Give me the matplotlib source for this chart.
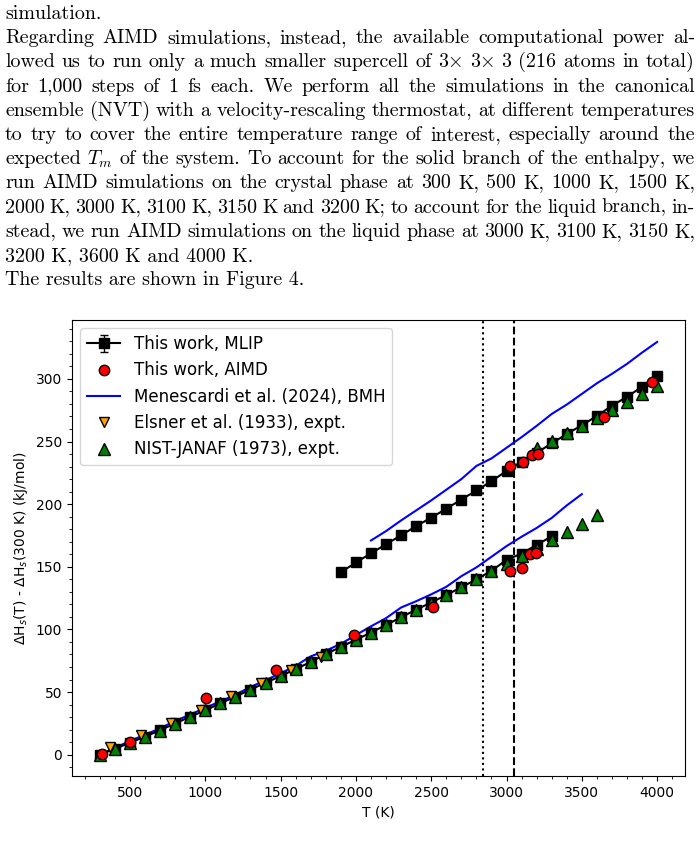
"""
Page excerpt with Figure 4: enthalpy difference vs temperature
(MLIP / AIMD / BMH / experimental data).
"""

import matplotlib
matplotlib.use("Agg")
import matplotlib.pyplot as plt
import numpy as np


# ── Data ─────────────────────────────────────────────────────────────

# MLIP, solid branch
T_MLIP_SOLID = np.arange(300, 3301, 100)
H_MLIP_SOLID = [0, 4.8, 9.5, 14.5, 19.5, 25.0, 30.3, 35.4, 41.0, 46.4,
                52.0, 57.4, 62.8, 68.4, 74.0, 80.4, 86.0, 91.8, 97.5, 103.6,
                109.7, 115.8, 121.5, 127.5, 133.6, 140.0, 146.8, 155.5, 160.6,
                167.5, 174.3]
# MLIP, liquid branch
T_MLIP_LIQUID = np.arange(1900, 4001, 100)
H_MLIP_LIQUID = [145.5, 153.5, 160.7, 168.0, 175.1, 182.5, 189.2, 196.3,
                 203.7, 210.9, 218.3, 226.5, 234.0, 241.0, 248.5, 256.0,
                 263.0, 270.4, 278.6, 285.7, 293.7, 302.1]
MLIP_ERR = 0.8

# AIMD
T_AIMD_SOLID = [314, 502, 1005, 1470, 1988, 2513, 3025, 3100, 3153, 3198]
H_AIMD_SOLID = [0.5, 10.3, 45.5, 67.5, 95.5, 118.2, 146.8, 149.0, 160.0, 161.0]
T_AIMD_LIQUID = [3020, 3109, 3168, 3211, 3645, 3964]
H_AIMD_LIQUID = [230.2, 234.0, 238.9, 240.2, 269.3, 297.6]

# Menescardi et al. (2024), BMH
T_BMH_SOLID = np.arange(300, 3501, 100)
H_BMH_SOLID = [0, 5.5, 11.0, 16.0, 21.0, 27.0, 32.0, 37.5, 42.5, 48.0,
               54.0, 59.5, 65.0, 71.0, 78.5, 83.0, 88.5, 95.5, 102.5, 109.0,
               117.5, 122.5, 128.0, 134.0, 142.5, 149.5, 158.0, 166.5, 174.0,
               181.0, 189.0, 199.0, 208.0]
T_BMH_LIQUID = np.arange(2100, 4001, 100)
H_BMH_LIQUID = [171.0, 178.5, 187.0, 195.0, 203.0, 211.5, 220.0, 230.5,
                236.5, 245.0, 253.5, 262.5, 272.0, 279.5, 288.0, 296.5,
                304.0, 312.0, 321.0, 329.5]

# Elsner et al. (1933)
T_ELSNER = [370, 570, 770, 970, 1170, 1370, 1570, 1770]
H_ELSNER = [5.8, 15.9, 25.6, 35.7, 46.8, 57.4, 68.0, 78.0]

# NIST-JANAF (1973)
T_NIST_SOLID = np.arange(300, 3601, 100)
H_NIST_SOLID = [0, 4.8, 9.6, 14.5, 19.3, 24.9, 30.3, 35.3, 40.9, 46.3,
                52.0, 57.4, 62.8, 68.4, 74.1, 80.4, 86.0, 91.8, 97.4, 103.7,
                109.8, 115.9, 121.4, 127.5, 133.6, 139.9, 146.8, 152.6, 158.3,
                164.5, 171.0, 177.8, 184.4, 191.0]
T_NIST_LIQUID = np.arange(3200, 4001, 100)
H_NIST_LIQUID = [245.2, 250.5, 256.6, 262.7, 268.5, 275.1, 281.2, 287.8, 294.4]

T_DOTTED = 2845
T_DASHED = 3052

# Paragraph text (justified lines are marked True)
PARAGRAPH = [
    ("simulation.", False),
    ("Regarding AIMD simulations, instead, the available computational power al-", True),
    (r"lowed us to run only a much smaller supercell of 3$\times$ 3$\times$ 3 (216 atoms in total)", True),
    ("for 1,000 steps of 1 fs each.  We perform all the simulations in the canonical", True),
    ("ensemble (NVT) with a velocity-rescaling thermostat, at different temperatures", True),
    ("to try to cover the entire temperature range of interest, especially around the", True),
    (r"expected $T_m$ of the system. To account for the solid branch of the enthalpy, we", True),
    ("run AIMD simulations on the crystal phase at 300 K, 500 K, 1000 K, 1500 K,", True),
    ("2000 K, 3000 K, 3100 K, 3150 K and 3200 K; to account for the liquid branch, in-", True),
    ("stead, we run AIMD simulations on the liquid phase at 3000 K, 3100 K, 3150 K,", True),
    ("3200 K, 3600 K and 4000 K.", False),
    ("The results are shown in Figure 4.", False),
]


# ── Figure ───────────────────────────────────────────────────────────

W, H = 700, 849
SERIF = ["cmr10", "DejaVu Serif"]
TEXT_SIZE = 14.4

fig = plt.figure(figsize=(W / 100, H / 100), dpi=100)
renderer = fig.canvas.get_renderer()


def text_width(s, size):
    t = fig.text(0, 0, s, fontsize=size, family=SERIF, math_fontfamily="cm")
    w = t.get_window_extent(renderer).width
    t.remove()
    return w


def draw_line(line, justify, y_px, x0=5, x1=695):
    kw = dict(fontsize=TEXT_SIZE, family=SERIF, math_fontfamily="cm",
              va="baseline", ha="left")
    if not justify:
        fig.text(x0 / W, 1 - y_px / H, line, **kw)
        return
    words = line.split()
    widths = [text_width(w, TEXT_SIZE) for w in words]
    space = (x1 - x0 - sum(widths)) / (len(words) - 1)
    x = x0
    for w, wd in zip(words, widths):
        fig.text(x / W, 1 - y_px / H, w, **kw)
        x += wd + space


for i, (line, justify) in enumerate(PARAGRAPH):
    draw_line(line, justify, 19 + i * 24.2)

# ── Plot ─────────────────────────────────────────────────────────────

ax = fig.add_axes([72 / W, 1 - 776 / H, (685 - 72) / W, (776 - 320) / H])

ax.plot(T_BMH_SOLID, H_BMH_SOLID, color="blue", lw=1.5, zorder=2)
bmh, = ax.plot(T_BMH_LIQUID, H_BMH_LIQUID, color="blue", lw=1.5, zorder=2)

mlip_kw = dict(fmt="-s", color="black", ms=7, lw=1.5, capsize=3,
               elinewidth=1, zorder=3)
mlip = ax.errorbar(T_MLIP_SOLID, H_MLIP_SOLID, yerr=MLIP_ERR, **mlip_kw)
ax.errorbar(T_MLIP_LIQUID, H_MLIP_LIQUID, yerr=MLIP_ERR, **mlip_kw)

elsner, = ax.plot(T_ELSNER, H_ELSNER, "v", color="orange", mec="black",
                  ms=6.5, ls="none", zorder=4)

nist_kw = dict(marker="^", color="green", mec="black", ms=8, ls="none",
               zorder=5)
nist, = ax.plot(T_NIST_SOLID, H_NIST_SOLID, **nist_kw)
ax.plot(T_NIST_LIQUID, H_NIST_LIQUID, **nist_kw)

aimd_kw = dict(marker="o", color="red", mec="black", ms=7.5, ls="none",
               zorder=6)
aimd, = ax.plot(T_AIMD_SOLID, H_AIMD_SOLID, **aimd_kw)
ax.plot(T_AIMD_LIQUID, H_AIMD_LIQUID, **aimd_kw)

ax.axvline(T_DOTTED, color="black", ls=":", lw=1.5, zorder=1)
ax.axvline(T_DASHED, color="black", ls="--", lw=1.5, zorder=1)

ax.set_xlim(115, 4185)
ax.set_ylim(-17, 347)
ax.set_xticks([500, 1000, 1500, 2000, 2500, 3000, 3500, 4000])
ax.set_yticks([0, 50, 100, 150, 200, 250, 300])
ax.minorticks_on()
ax.xaxis.set_minor_locator(matplotlib.ticker.MultipleLocator(100))
ax.yaxis.set_minor_locator(matplotlib.ticker.MultipleLocator(10))
ax.tick_params(labelsize=10)
ax.set_xlabel("T (K)", fontsize=10)
ax.set_ylabel(r"$\Delta$H$_s$(T) - $\Delta$H$_s$(300 K) (kJ/mol)", fontsize=10)

ax.legend(
    [mlip, aimd, bmh, elsner, nist],
    ["This work, MLIP", "This work, AIMD", "Menescardi et al. (2024), BMH",
     "Elsner et al. (1933), expt.", "NIST-JANAF (1973), expt."],
    loc="upper left", fontsize=12,
)

fig.savefig("out.png", dpi=100)
